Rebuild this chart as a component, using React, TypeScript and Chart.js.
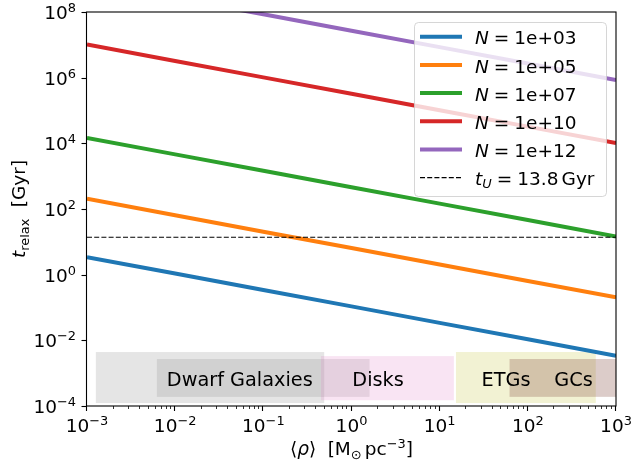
import React, { useEffect, useRef } from 'react';
import { Chart, registerables } from 'chart.js';

Chart.register(...registerables);

// ---------- data ----------
const densities = [1e-3, 1e-2, 1e-1, 1, 10, 100, 1000];
const seriesNames = ['1e+03', '1e+05', '1e+07', '1e+10', '1e+12'];
const tRelaxN1e3 = [3.4, 1.08, 0.34, 0.108, 0.034, 0.0108, 0.0034];
const tRelaxN1e5 = [204, 64.5, 20.4, 6.45, 2.04, 0.645, 0.204];
const tRelaxN1e7 = [14600, 4620, 1460, 462, 146, 46.2, 14.6];
const tRelaxN1e10 = [1.02e7, 3.23e6, 1.02e6, 3.23e5, 1.02e5, 3.23e4, 1.02e4];
const tRelaxN1e12 = [8.5e8, 2.69e8, 8.5e7, 2.69e7, 8.5e6, 2.69e6, 8.5e5];
const tUniverse = 13.8;

const xTickValues = [1e-3, 1e-2, 1e-1, 1, 10, 100, 1000];
const xTickExps = ['\u22123', '\u22122', '\u22121', '0', '1', '2', '3'];
const yTickValues = [1e-4, 1e-2, 1, 1e2, 1e4, 1e6, 1e8];
const yTickExps = ['\u22124', '\u22122', '0', '2', '4', '6', '8'];

// object-class density ranges (shaded bands)
const bandRhoLo = [1.26e-3, 6.2e-3, 0.45, 15.3, 62];
const bandRhoHi = [0.49, 1.6, 14.5, 590, 3000];
const bandTLo = [1.23e-4, 1.9e-4, 1.5e-4, 1.23e-4, 1.9e-4];
const bandTHi = [4.4e-3, 2.7e-3, 3.3e-3, 4.4e-3, 2.7e-3];
const classNames = ['Dwarf Galaxies', 'Disks', 'ETGs', 'GCs'];
const classLabelRho = [0.054, 2.0, 56.5, 330];
const classLabelT = 6.6e-4;

// ---------- styles ----------
const seriesColors = ['#1f77b4', '#ff7f0e', '#2ca02c', '#d62728', '#9467bd'];
const bandColors = [
  'rgba(127,127,127,0.2)',
  'rgba(127,127,127,0.2)',
  'rgba(227,119,194,0.2)',
  'rgba(188,189,34,0.2)',
  'rgba(140,86,75,0.3)',
];
const FONT = '"DejaVu Sans", "Liberation Sans", sans-serif';
const F = 18.5;
const FL = 19.3;

type Seg = { t: string; it?: boolean; s?: number; dy?: number; gap?: number };

function segFont(seg: Seg, size: number) {
  return `${seg.it ? 'italic ' : ''}${(size * (seg.s ?? 1)).toFixed(2)}px ${FONT}`;
}
function richWidth(ctx: CanvasRenderingContext2D, segs: Seg[], size: number) {
  let w = 0;
  for (const s of segs) {
    ctx.font = segFont(s, size);
    w += ctx.measureText(s.t).width + (s.gap ?? 0) * size;
  }
  return w;
}
function drawRich(
  ctx: CanvasRenderingContext2D,
  segs: Seg[],
  x: number,
  y: number,
  size: number,
  align: 'left' | 'center' | 'right'
) {
  const w = richWidth(ctx, segs, size);
  let cx = align === 'left' ? x : align === 'center' ? x - w / 2 : x - w;
  ctx.textAlign = 'left';
  ctx.textBaseline = 'alphabetic';
  for (const s of segs) {
    ctx.font = segFont(s, size);
    ctx.fillText(s.t, cx, y - (s.dy ?? 0) * size);
    cx += ctx.measureText(s.t).width + (s.gap ?? 0) * size;
  }
}

const decorPlugin = {
  id: 'decor',
  beforeDatasetsDraw(chart: any) {
    const { ctx, chartArea: a, scales } = chart;
    const xs = scales.x;
    const ys = scales.y;
    ctx.save();
    ctx.beginPath();
    ctx.rect(a.left, a.top, a.right - a.left, a.bottom - a.top);
    ctx.clip();
    for (let i = 0; i < bandRhoLo.length; i++) {
      const x0 = xs.getPixelForValue(bandRhoLo[i]);
      const x1 = xs.getPixelForValue(bandRhoHi[i]);
      const y0 = ys.getPixelForValue(bandTHi[i]);
      const y1 = ys.getPixelForValue(bandTLo[i]);
      ctx.fillStyle = bandColors[i];
      ctx.fillRect(x0, y0, x1 - x0, y1 - y0);
    }
    ctx.restore();
  },
  afterDatasetsDraw(chart: any) {
    const { ctx, chartArea: a, scales } = chart;
    const xs = scales.x;
    const ys = scales.y;
    ctx.save();
    ctx.fillStyle = '#000';
    // class labels
    for (let i = 0; i < classNames.length; i++) {
      const px = xs.getPixelForValue(classLabelRho[i]);
      const py = ys.getPixelForValue(classLabelT);
      ctx.font = `${FL}px ${FONT}`;
      ctx.textAlign = 'center';
      ctx.textBaseline = 'alphabetic';
      ctx.fillText(classNames[i], px, py + 0.36 * FL);
    }

    // frame
    ctx.strokeStyle = '#000';
    ctx.lineWidth = 1.1;
    ctx.strokeRect(a.left - 0.5, a.top, a.right - a.left + 0.5, a.bottom - a.top);

    // x ticks
    ctx.lineWidth = 1.1;
    for (const v of xTickValues) {
      const px = Math.round(xs.getPixelForValue(v)) - 0.5;
      ctx.beginPath();
      ctx.moveTo(px, a.bottom);
      ctx.lineTo(px, a.bottom + 5);
      ctx.stroke();
    }
    ctx.lineWidth = 0.8;
    for (let d = 0; d < xTickValues.length - 1; d++) {
      for (let m = 2; m <= 9; m++) {
        const px = Math.round(xs.getPixelForValue(m * xTickValues[d])) - 0.5;
        ctx.beginPath();
        ctx.moveTo(px, a.bottom);
        ctx.lineTo(px, a.bottom + 3);
        ctx.stroke();
      }
    }
    // y ticks
    ctx.lineWidth = 1.1;
    for (const v of yTickValues) {
      const py = Math.round(ys.getPixelForValue(v)) + 0.5;
      ctx.beginPath();
      ctx.moveTo(a.left - 0.5, py);
      ctx.lineTo(a.left - 5.5, py);
      ctx.stroke();
    }

    // tick labels
    ctx.fillStyle = '#000';
    for (let i = 0; i < xTickValues.length; i++) {
      const px = xs.getPixelForValue(xTickValues[i]);
      drawRich(ctx, [{ t: '10' }, { t: xTickExps[i], s: 0.7, dy: 0.37 }], px, a.bottom + 26, F, 'center');
    }
    for (let i = 0; i < yTickValues.length; i++) {
      const py = ys.getPixelForValue(yTickValues[i]);
      drawRich(ctx, [{ t: '10' }, { t: yTickExps[i], s: 0.7, dy: 0.37 }], a.left - 11, py + 7, F, 'right');
    }

    // axis titles
    drawRich(
      ctx,
      [
        { t: '\u27E8' },
        { t: '\u03C1', it: true },
        { t: '\u27E9', gap: 0.62 },
        { t: '[M' },
        { t: '\u2299', s: 0.7, dy: -0.2, gap: 0.17 },
        { t: 'pc' },
        { t: '\u22123', s: 0.7, dy: 0.37 },
        { t: ']' },
      ],
      (a.left + a.right) / 2,
      455,
      F,
      'center'
    );
    ctx.save();
    ctx.translate(25, (a.top + a.bottom) / 2);
    ctx.rotate(-Math.PI / 2);
    drawRich(
      ctx,
      [
        { t: 't', it: true },
        { t: 'relax', s: 0.7, dy: -0.2, gap: 0.62 },
        { t: '[Gyr]' },
      ],
      0,
      0,
      F,
      'center'
    );
    ctx.restore();

    // legend
    const lx = 414, ly = 22, lw = 192, lh = 174;
    ctx.beginPath();
    ctx.roundRect(lx + 0.5, ly + 0.5, lw, lh, 4);
    ctx.fillStyle = 'rgba(255,255,255,0.8)';
    ctx.fill();
    ctx.strokeStyle = 'rgba(204,204,204,0.8)';
    ctx.lineWidth = 1;
    ctx.stroke();

    const rowY0 = 36.7;
    const rowStep = 28.2;
    for (let i = 0; i < seriesNames.length; i++) {
      const y = rowY0 + i * rowStep;
      ctx.strokeStyle = seriesColors[i];
      ctx.lineWidth = 4;
      ctx.setLineDash([]);
      ctx.beginPath();
      ctx.moveTo(420, y);
      ctx.lineTo(462, y);
      ctx.stroke();
      ctx.fillStyle = '#000';
      drawRich(
        ctx,
        [{ t: 'N', it: true, gap: 0.27 }, { t: '=', gap: 0.27 }, { t: seriesNames[i] }],
        475,
        y + 7.6,
        F,
        'left'
      );
    }
    {
      const y = rowY0 + seriesNames.length * rowStep;
      ctx.strokeStyle = '#000';
      ctx.lineWidth = 1.2;
      ctx.setLineDash([5, 2.2]);
      ctx.beginPath();
      ctx.moveTo(420, y);
      ctx.lineTo(462, y);
      ctx.stroke();
      ctx.setLineDash([]);
      ctx.fillStyle = '#000';
      drawRich(
        ctx,
        [
          { t: 't', it: true },
          { t: 'U', it: true, s: 0.7, dy: -0.16, gap: 0.27 },
          { t: '=', gap: 0.27 },
          { t: String(tUniverse), gap: 0.17 },
          { t: 'Gyr' },
        ],
        475,
        y + 7.6,
        F,
        'left'
      );
    }
    ctx.restore();
  },
};

export default function App() {
  const ref = useRef<HTMLCanvasElement | null>(null);
  useEffect(() => {
    if (!ref.current) return;
    const allSeries = [tRelaxN1e3, tRelaxN1e5, tRelaxN1e7, tRelaxN1e10, tRelaxN1e12];
    const datasets: any[] = allSeries.map((vals, i) => ({
      label: `N = ${seriesNames[i]}`,
      data: densities.map((x, j) => ({ x, y: vals[j] })),
      borderColor: seriesColors[i],
      backgroundColor: seriesColors[i],
      borderWidth: 4,
      pointRadius: 0,
      fill: false,
      tension: 0,
      clip: 0,
      order: 10 - i,
    }));
    datasets.push({
      label: 'tU',
      data: [
        { x: densities[0], y: tUniverse },
        { x: densities[densities.length - 1], y: tUniverse },
      ],
      borderColor: '#000',
      borderWidth: 1.2,
      borderDash: [5, 2.2],
      pointRadius: 0,
      fill: false,
      clip: 0,
      order: 0,
    });
    const chart = new Chart(ref.current, {
      type: 'line',
      data: { datasets },
      options: {
        responsive: false,
        animation: false,
        events: [],
        layout: { padding: { left: 87, right: 17, top: 12, bottom: 64 } },
        scales: {
          x: { type: 'logarithmic', min: 1e-3, max: 1e3, display: false },
          y: { type: 'logarithmic', min: 1e-4, max: 1e8, display: false },
        },
        plugins: { legend: { display: false }, tooltip: { enabled: false } },
      },
      plugins: [decorPlugin],
    } as any);
    return () => chart.destroy();
  }, []);
  return (
    <div style={{ position: 'fixed', left: 0, top: 0, width: 633, height: 470, background: '#fff' }}>
      <canvas ref={ref} width={633} height={470} style={{ display: 'block' }} />
    </div>
  );
}
